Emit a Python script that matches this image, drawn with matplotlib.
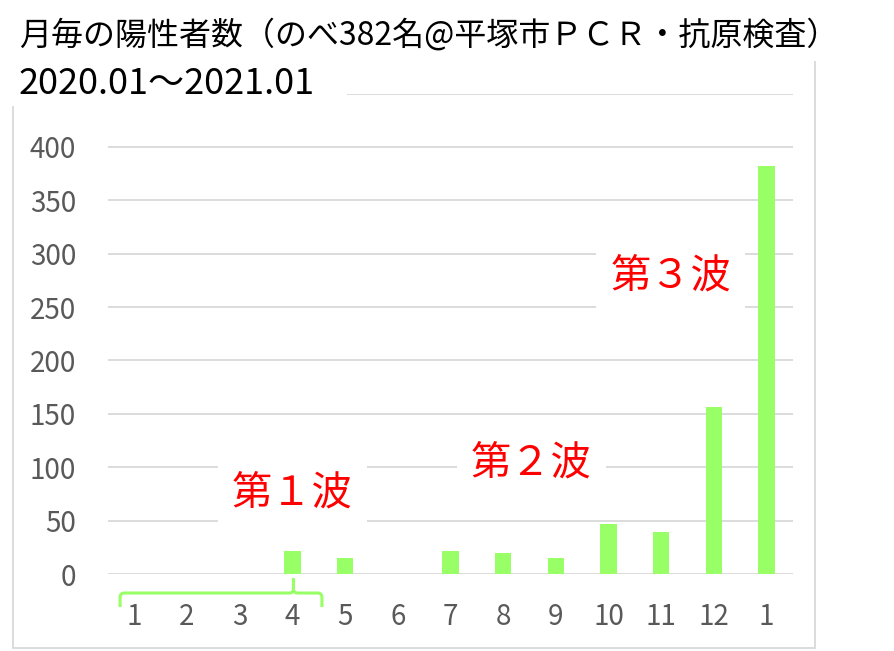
import matplotlib
matplotlib.use("Agg")
import matplotlib.pyplot as plt
from matplotlib.patches import Rectangle, PathPatch
from matplotlib.path import Path
from matplotlib.transforms import blended_transform_factory

plt.rcParams['font.family'] = ['Noto Sans CJK JP', 'DejaVu Sans']

# ---- data ----
month_labels = ['1', '2', '3', '4', '5', '6', '7', '8', '9', '10', '11', '12', '1']
cases = [0, 0, 0, 22, 15, 0, 22, 20, 15, 47, 39, 156, 382]
y_ticks = [0, 50, 100, 150, 200, 250, 300, 350, 400, 450]
y_tick_labels = ['0', '50', '100', '150', '200', '250', '300', '350', '400', '']
title = '月毎の陽性者数（のべ382名@平塚市ＰＣＲ・抗原検査）'
subtitle = '2020.01～2021.01'
waves = ['第１波', '第２波', '第３波']
wave_x = [4.0, 8.53, 11.18]
wave_y = [76, 104, 279]

W, H = 894, 651
fig = plt.figure(figsize=(W / 100, H / 100), dpi=100)
fig.patch.set_facecolor('white')

def fx(px):
    return px / W

def fy(py):
    return 1 - py / H

ax = fig.add_axes([fx(108), fy(574), fx(793) - fx(108), fy(93.6) - fy(574)])
x = list(range(1, len(cases) + 1))
ax.bar(x, cases, width=0.31, color='#99ff66', zorder=3)
ax.set_xlim(0.5, len(cases) + 0.5)
ax.set_ylim(0, 450)
ax.set_yticks(y_ticks)
ax.set_yticklabels(y_tick_labels)
ax.set_xticks(x)
ax.set_xticklabels(month_labels)
ax.yaxis.grid(True, color='#d9d9d9', linewidth=1.3)
ax.set_axisbelow(True)
for s in ax.spines.values():
    s.set_visible(False)
ax.tick_params(axis='both', length=0, labelsize=20, labelcolor='#595959')
ax.tick_params(axis='y', pad=23)
ax.tick_params(axis='x', pad=20)

for t, xx, yy in zip(waves, wave_x, wave_y):
    ax.text(xx, yy, t, color='#ff0000', fontsize=29, ha='center', va='center',
            bbox=dict(boxstyle='square,pad=0.35', fc='white', ec='none'), zorder=5)

# brace under months 1-4
tr = blended_transform_factory(ax.transData, ax.transAxes)
x0, x1, xt = 0.73, 4.56, 4.02
yh, ye, ytip = -0.0396, -0.0687, -0.0083
rx, ry = 0.08, 0.009
verts = [(x0, ye), (x0, yh - ry), (x0, yh), (x0 + rx, yh), (xt - rx, yh),
         (xt, yh), (xt, yh + ry), (xt, ytip), (xt, yh + ry), (xt, yh), (xt + rx, yh),
         (x1 - rx, yh), (x1, yh), (x1, yh - ry), (x1, ye)]
codes = [Path.MOVETO, Path.LINETO, Path.CURVE3, Path.CURVE3, Path.LINETO,
         Path.CURVE3, Path.CURVE3, Path.LINETO, Path.LINETO, Path.CURVE3, Path.CURVE3,
         Path.LINETO, Path.CURVE3, Path.CURVE3, Path.LINETO]
ax.add_patch(PathPatch(Path(verts, codes), transform=tr, fill=False, ec='#99ff66',
                       lw=2.2, clip_on=False, zorder=4))

# chart frame
fig.add_artist(Rectangle((fx(13), fy(648)), fx(815) - fx(13), fy(59) - fy(648),
                         transform=fig.transFigure, fill=False, ec='#d9d9d9', lw=1.3, zorder=1))
# white boxes behind title / subtitle
fig.add_artist(Rectangle((0, fy(60.5)), 1, 1 - fy(60.5), transform=fig.transFigure,
                         fc='white', ec='none', zorder=2))
fig.add_artist(Rectangle((0, fy(106)), fx(347), fy(58) - fy(106), transform=fig.transFigure,
                         fc='white', ec='none', zorder=2))

fig.text(fx(19), fy(35), title, fontsize=23, color='black', ha='left', va='center', zorder=3)
fig.text(fx(19), fy(84), subtitle, fontsize=26, color='black', ha='left', va='center', zorder=3)

fig.savefig('out.png', dpi=100, facecolor='white')
